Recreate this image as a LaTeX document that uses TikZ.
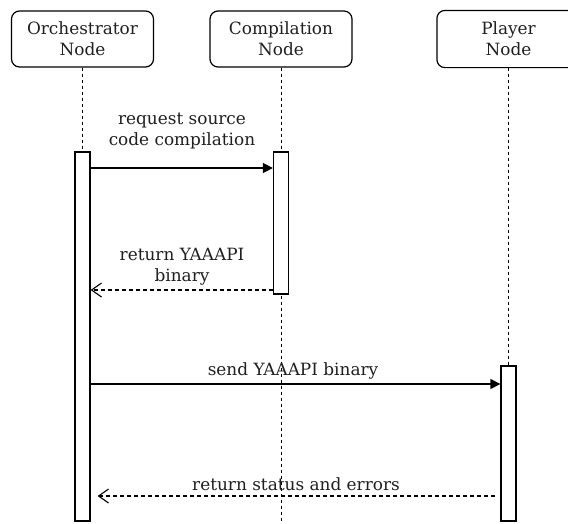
\documentclass[tikz,border=0pt]{standalone}
\usepackage{fontspec}
\setmainfont{DejaVu Serif}
\usetikzlibrary{arrows.meta}
\begin{document}
\begin{tikzpicture}[x=1pt,y=-1pt,
  every node/.style={font=\fontsize{16.9}{20.8}\selectfont, text=black!88},
  actor/.style={draw, rounded corners=8pt, line width=1.2pt, minimum width=142pt, minimum height=56pt, align=center, inner sep=0pt},
  life/.style={line width=0.9pt, dash pattern=on 3pt off 3pt},
  actbar/.style={draw, fill=white, line width=1.2pt, minimum width=15pt, inner sep=0pt},
  msg/.style={line width=1.2pt, -{Triangle[length=10pt,width=10pt]}},
  ret/.style={line width=1.1pt, dash pattern=on 4pt off 3pt, -{Straight Barb[length=10pt,width=14pt]}},
  lbl/.style={align=center, inner sep=0pt}
]
\useasboundingbox (0,0) rectangle (568,523);
\clip (0,0) rectangle (568,523);

% actors
\node[actor] (orch) at (82.5,39) {Orchestrator\\Node};
\node[actor] (comp) at (281,39) {Compilation\\Node};
\node[actor, draw=none] (play) at (508.5,39) {Player\\Node};
\draw[line width=1.2pt, rounded corners=8pt] (play.north west) rectangle ([xshift=30pt]play.south east);

% lifeline ends
\coordinate (oend) at (82.5,523);
\coordinate (cend) at (281,523);
\coordinate (pend) at (508.5,523);
\draw[life] (orch.south) -- (oend);
\draw[life] (comp.south) -- (cend);
\draw[life] (play.south) -- (pend);

% activation bars
\node[actbar, minimum height=369pt] (obar) at (82.5,336.5) {};
\node[actbar, minimum height=142pt] (cbar) at (281,223) {};
\node[actbar, minimum height=155pt] (pbar) at (508.5,443.5) {};

% message levels
\coordinate (m1) at (0,168);
\coordinate (m2) at (0,290);
\coordinate (m3) at (0,384);
\coordinate (m4) at (0,496);

\draw[msg] (obar.east |- m1) -- (cbar.west |- m1);
\draw[ret] (cbar.west |- m2) -- (obar.east |- m2);
\draw[msg] (obar.east |- m3) -- (pbar.west |- m3);
\draw[ret] ([xshift=-5pt]pbar.west |- m4) -- ([xshift=7pt]obar.east |- m4);

% labels
\node[lbl] (l1) at (182,131) {request source\\code compilation};
\node[lbl] (l2) at (182,266.5) {return YAAAPI\\binary};
\node[lbl] (l3) at (293,371) {send YAAAPI binary};
\node[lbl] (l4) at (296,484) {return status and errors};
\end{tikzpicture}
\end{document}
